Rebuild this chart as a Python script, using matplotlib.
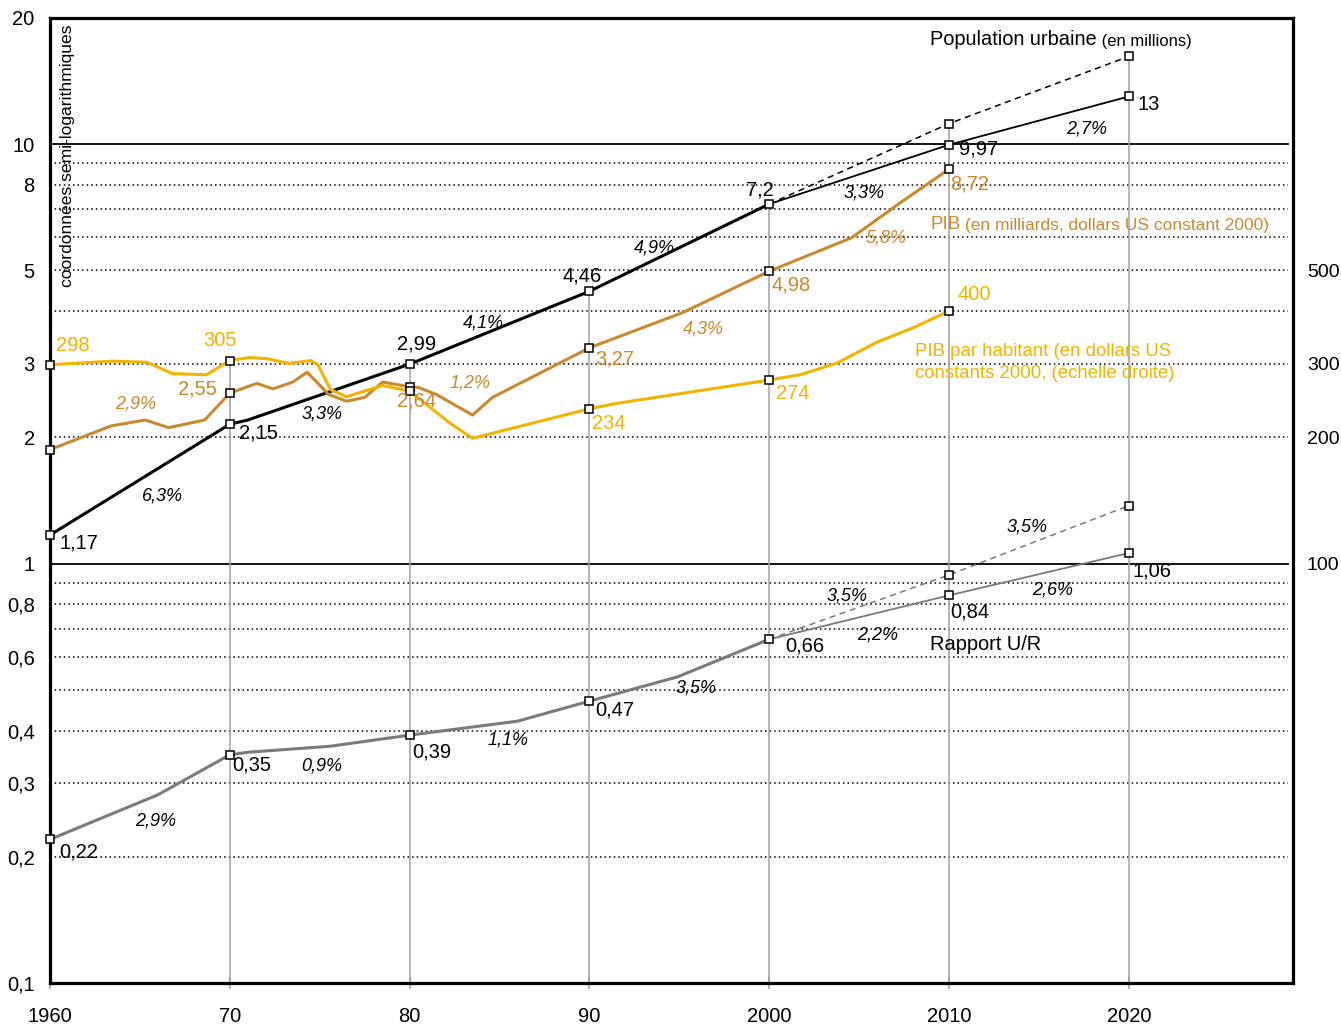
import matplotlib
matplotlib.use('Agg')
import matplotlib.pyplot as plt
import numpy as np

plt.rcParams['font.family'] = ['Liberation Sans', 'DejaVu Sans']

# ---------------- data ----------------
decade_years = [1960, 1970, 1980, 1990, 2000, 2010, 2020]
x_tick_labels = ['1960', '70', '80', '90', '2000', '2010', '2020']
y_ticks = [0.1, 0.2, 0.3, 0.4, 0.6, 0.8, 1, 2, 3, 5, 8, 10, 20]
y_tick_labels = ['0,1', '0,2', '0,3', '0,4', '0,6', '0,8', '1', '2', '3', '5', '8', '10', '20']
right_ticks = [100, 200, 300, 500]

# Population urbaine (millions)
pop_hist_years = [1960, 1970, 1971, 1980, 1990, 2000]
pop_hist_vals = [1.17, 2.15, 2.2, 2.99, 4.46, 7.2]
pop_proj_years = [2000, 2010, 2020]
pop_proj_vals = [7.2, 9.97, 13]
pop_alt_vals = [7.2, 11.2, 16.2]
pop_mark_years = [1960, 1970, 1980, 1990, 2000, 2010, 2020]
pop_mark_vals = [1.17, 2.15, 2.99, 4.46, 7.2, 9.97, 13]
pop_labels = ['1,17', '2,15', '2,99', '4,46', '7,2', '9,97', '13']

# PIB (milliards $ US constants 2000)
pib_years = [1960, 1963.4, 1965.3, 1966.6, 1968.6, 1970, 1971.5, 1972.4, 1973.5, 1974.3,
             1975.5, 1976.5, 1977.5, 1978.5, 1980, 1980.5, 1981.5, 1983.5, 1984.6,
             1990, 1995.2, 2000, 2004.6, 2007.3, 2010]
pib_vals = [1.87, 2.13, 2.20, 2.11, 2.20, 2.55, 2.69, 2.61, 2.71, 2.86,
            2.53, 2.44, 2.49, 2.71, 2.64, 2.63, 2.53, 2.26, 2.49,
            3.27, 3.97, 4.98, 5.99, 7.26, 8.72]
pib_mark_years = [1960, 1970, 1980, 1990, 2000, 2010]
pib_mark_vals = [1.87, 2.55, 2.64, 3.27, 4.98, 8.72]
pib_labels = [None, '2,55', '2,64', '3,27', '4,98', '8,72']

# PIB par habitant ($ US constants 2000, echelle droite)
pph_years = [1960, 1963.5, 1965.4, 1966.8, 1968.7, 1970, 1971.1, 1972.1, 1973.3, 1974.5,
             1974.9, 1975.6, 1976.5, 1978.5, 1980, 1982.2, 1983.5, 1990, 1991.5,
             2000, 2001.7, 2003.8, 2005.9, 2008, 2010]
pph_vals = [298, 304, 302, 284, 282, 305, 310, 308, 300, 305,
            298, 260, 250, 266, 258, 217, 199, 234, 241,
            274, 282, 301, 336, 365, 400]
pph_mark_years = [1960, 1970, 1980, 1990, 2000, 2010]
pph_mark_vals = [298, 305, 258, 234, 274, 400]
pph_labels = ['298', '305', None, '234', '274', '400']

# Rapport U/R
ur_hist_years = [1960, 1966, 1970, 1971, 1975.6, 1980, 1986, 1990, 1994.9, 2000]
ur_hist_vals = [0.22, 0.281, 0.35, 0.355, 0.367, 0.39, 0.421, 0.47, 0.537, 0.66]
ur_proj_years = [2000, 2010, 2020]
ur_proj_vals = [0.66, 0.84, 1.06]
ur_alt_vals = [0.66, 0.94, 1.375]
ur_mark_years = [1960, 1970, 1980, 1990, 2000, 2010, 2020]
ur_mark_vals = [0.22, 0.35, 0.39, 0.47, 0.66, 0.84, 1.06]
ur_labels = ['0,22', '0,35', '0,39', '0,47', '0,66', '0,84', '1,06']

# ---------------- styling ----------------
BLACK = '#000000'
BROWN = '#C98A2E'
GOLD = '#F2B400'
GREY = '#7a7a7a'
VGREY = '#a0a0a0'

W, H = 1341, 1025
fig = plt.figure(figsize=(W / 100, H / 100), dpi=100)
ax = fig.add_axes([50 / W, 1 - 983 / H, (1293 - 50) / W, (983 - 18) / H])
ax.set_yscale('log')
ax.set_xlim(1960, 2029.13)
ax.set_ylim(0.1, 20)

# pixel helpers for free text placement
def px2data(x, y):
    yr = 1960 + (x - 50) / 17.98
    v = 10 ** ((564 - y) / 419.4)
    return yr, v

# horizontal grid
for v in [0.2, 0.3, 0.4, 0.5, 0.6, 0.7, 0.8, 0.9, 2, 3, 4, 5, 6, 7, 8, 9]:
    ax.axhline(v, xmin=0, xmax=0.996, color='black', lw=1.1, ls=(0, (1, 2)), zorder=1)
for v in [1, 10]:
    ax.axhline(v, xmin=0, xmax=0.996, color='black', lw=1.3, zorder=1)

# vertical lines up to top marker
all_marks = {}
for ys, vs in [(pop_mark_years, pop_mark_vals), (pib_mark_years, pib_mark_vals),
               (pph_mark_years, [v / 100 for v in pph_mark_vals]),
               (ur_mark_years, ur_mark_vals),
               (pop_proj_years[1:], pop_alt_vals[1:]), (ur_proj_years[1:], ur_alt_vals[1:])]:
    for y_, v_ in zip(ys, vs):
        all_marks[y_] = max(all_marks.get(y_, 0), v_)
for yr in decade_years[1:]:
    ax.vlines(yr, 0.1, all_marks[yr], color=VGREY, lw=1.1, zorder=1.5)

# lines
ax.plot(pop_hist_years, pop_hist_vals, color=BLACK, lw=2.2, zorder=3)
ax.plot(pop_proj_years, pop_proj_vals, color=BLACK, lw=1.3, zorder=3)
ax.plot(pop_proj_years, pop_alt_vals, color=BLACK, lw=1.1, ls=(0, (4, 3)), zorder=3)
ax.plot(pib_years, pib_vals, color=BROWN, lw=2.2, zorder=3)
ax.plot(pph_years, [v / 100 for v in pph_vals], color=GOLD, lw=2.2, zorder=3)
ax.plot(ur_hist_years, ur_hist_vals, color=GREY, lw=2.2, zorder=3)
ax.plot(ur_proj_years, ur_proj_vals, color=GREY, lw=1.3, zorder=3)
ax.plot(ur_proj_years, ur_alt_vals, color=GREY, lw=1.1, ls=(0, (4, 3)), zorder=3)

mk = dict(marker='s', ms=5.5, mfc='white', mec='black', mew=1.1, ls='none', zorder=5,
          clip_on=False)
ax.plot(pop_mark_years, pop_mark_vals, **mk)
ax.plot(pop_proj_years[1:], pop_alt_vals[1:], **mk)
ax.plot(pib_mark_years, pib_mark_vals, **mk)
ax.plot(pph_mark_years, [v / 100 for v in pph_mark_vals], **mk)
ax.plot(ur_mark_years, ur_mark_vals, **mk)
ax.plot(ur_proj_years[1:], ur_alt_vals[1:], **mk)

# value labels (offsets in pixels: dx right, dy down)
VFS = 14.5
def vlabels(years, vals, labels, offs, color, scale=1.0):
    for yr, v, lab, (dx, dy) in zip(years, vals, labels, offs):
        if lab is None:
            continue
        ax.annotate(lab, (yr, v * scale), xytext=(dx, -dy), textcoords='offset pixels',
                    ha='center', va='center', color=color, fontsize=VFS, zorder=6)

vlabels(pop_mark_years, pop_mark_vals, pop_labels,
        [(29, 8), (29, 9), (7, -20), (-7, -15), (-9, -14), (30, 4), (20, 8)], BLACK)
vlabels(pib_mark_years, pib_mark_vals, pib_labels,
        [(0, 0), (-32, -4), (7, 14), (25, 11), (22, 14), (21, 15)], BROWN)
vlabels(pph_mark_years, pph_mark_vals, pph_labels,
        [(23, -19), (-10, -20), (0, 0), (19, 15), (24, 13), (25, -17)], GOLD, scale=0.01)
vlabels(ur_mark_years, ur_mark_vals, ur_labels,
        [(29, 13), (22, 10), (22, 17), (25, 9), (36, 7), (21, 17), (23, 18)], BLACK)

# growth rate labels (italic)
RFS = 13
rates = [
    ('6,3%', 162, 496, BLACK), ('3,3%', 322, 414, BLACK), ('4,1%', 483, 323, BLACK),
    ('4,9%', 654, 248, BLACK), ('3,3%', 864, 193, BLACK), ('2,7%', 1087, 129, BLACK),
    ('2,9%', 136, 404, BROWN), ('1,2%', 470, 383, BROWN), ('4,3%', 703, 329, BROWN),
    ('5,8%', 886, 238, BROWN),
    ('2,9%', 156, 821, BLACK), ('0,9%', 322, 766, BLACK), ('1,1%', 508, 740, BLACK),
    ('3,5%', 696, 688, BLACK), ('2,2%', 878, 635, BLACK), ('3,5%', 847, 596, BLACK),
    ('2,6%', 1053, 590, BLACK), ('3,5%', 1027, 527, BLACK),
]
for t, x, y, c in rates:
    xd, yd = px2data(x, y)
    ax.text(xd, yd, t, style='italic', fontsize=RFS, color=c, ha='center', va='center', zorder=6)

# series titles
xd, yd = px2data(930, 40)
t1 = ax.text(xd, yd, 'Population urbaine', fontsize=14.4, color=BLACK, ha='left', va='center')
ax.annotate(' (en millions)', xycoords=t1, xy=(1, 0), va='bottom', fontsize=12, color=BLACK)
xd, yd = px2data(930, 225)
t2 = ax.text(xd, yd, 'PIB', fontsize=13.5, color=BROWN, ha='left', va='center')
ax.annotate(' (en milliards, dollars US constant 2000)', xycoords=t2, xy=(1, 0), va='bottom',
            fontsize=12.5, color=BROWN)
xd, yd = px2data(915, 363)
ax.text(xd, yd, 'PIB par habitant (en dollars US\nconstants 2000, (échelle droite)',
        fontsize=13.4, color=GOLD, ha='left', va='center', linespacing=1.35)
xd, yd = px2data(930, 645)
ax.text(xd, yd, 'Rapport U/R', fontsize=14.4, color=BLACK, ha='left', va='center')

xd, yd = px2data(67, 25)
ax.text(xd, yd, 'coordonnées semi-logarithmiques', rotation=90, fontsize=12.6, color=BLACK,
        ha='center', va='top')

# axes
ax.set_xticks(decade_years)
ax.set_xticklabels(x_tick_labels, fontsize=14.5)
ax.tick_params(axis='x', direction='inout', length=9, width=1.1, color=VGREY, pad=13)
ax.set_yticks(y_ticks)
ax.set_yticklabels(y_tick_labels, fontsize=14.5)
ax.yaxis.set_minor_locator(matplotlib.ticker.NullLocator())
ax.tick_params(axis='y', length=0, pad=11)
for s in ax.spines.values():
    s.set_linewidth(2.3)

sec = ax.secondary_yaxis('right', functions=(lambda y: y * 100, lambda y: y / 100))
sec.set_yticks(right_ticks)
sec.set_yticklabels([str(v) for v in right_ticks], fontsize=14)
sec.yaxis.set_minor_locator(matplotlib.ticker.NullLocator())
sec.tick_params(axis='y', length=0, pad=10)
sec.spines['right'].set_visible(False)

fig.savefig('out.png', dpi=100)
